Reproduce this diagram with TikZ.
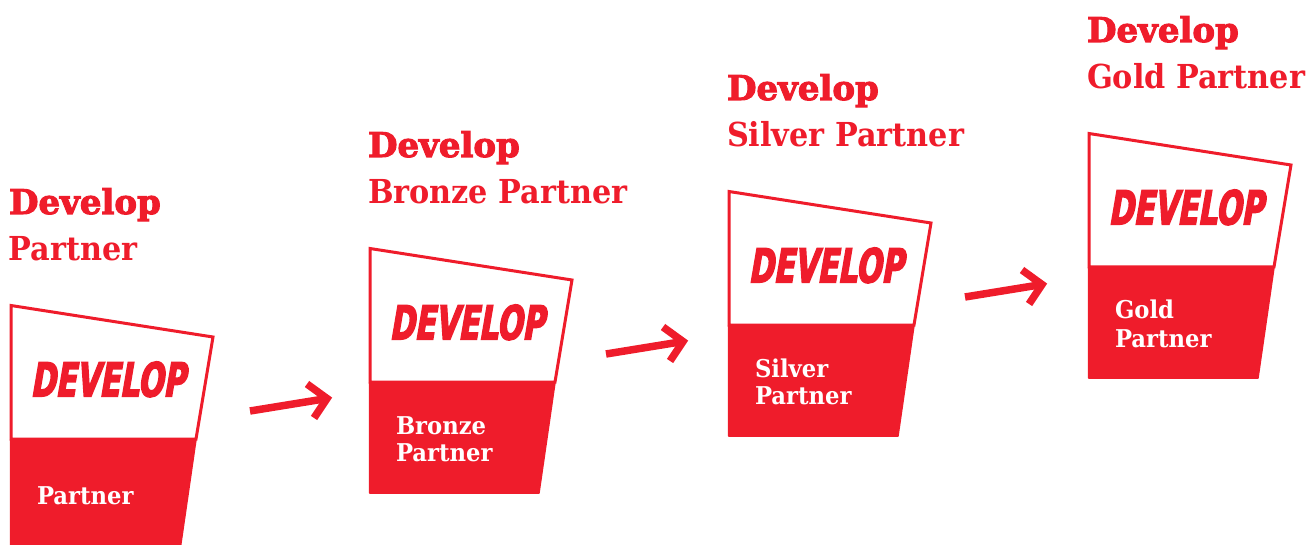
\documentclass[tikz,border=0pt]{standalone}
\usepackage{fontspec}
\setmainfont{DejaVu Serif Condensed}
\newfontfamily\heavyf[FakeBold=3]{DejaVu Serif Bold}
\newfontfamily\subf[FakeStretch=1.02]{DejaVu Serif Condensed Bold}
\newfontfamily\logof[FakeSlant=0.17,FakeStretch=0.71,FakeBold=3]{DejaVu Sans Condensed Bold}
\newfontfamily\labelf[FakeStretch=1.03]{DejaVu Serif Condensed Bold}
\definecolor{devred}{HTML}{EF1C2B}
\newcommand\tpx[2]{\fontsize{#1}{#2}\selectfont}
\tikzset{
  x=1pt,y=-1pt,
  txt/.style={inner sep=0,outer sep=0,anchor=base west},
  headline/.style={txt,text=devred,font=\heavyf\tpx{34}{36}},
  subline/.style={txt,text=devred,font=\subf\tpx{33}{36}},
  logotext/.style={txt,text=devred,font=\logof\tpx{47}{50}},
  labeltext/.style={txt,text=white,font=\labelf\tpx{24.5}{26}},
  frame/.style={draw=devred,line width=3pt,line join=miter,fill=white},
  band/.style={fill=devred,draw=devred,line width=1.5pt,line join=round},
  flowarrow/.style={draw=devred,line width=7.5pt,line cap=butt,line join=miter},
}
% #1 name, #2 x, #3 y, #4 subtitle, #5 label body
\newcommand\devbadge[5]{%
  \begin{scope}[shift={(#2,#3)}]
    \node[headline] (#1head) at (-1,-91) {Develop};
    \node[subline]  (#1sub)  at (-1,-44.5) {#4};
    \path[frame] (1,0.5) -- (1,134) -- (186,134) -- (203,32) -- cycle;
    \path[band] (0.5,134.5) -- (186,134.5) -- (170,245) -- (0.5,245) -- cycle;
    \node[logotext] (#1logo) at (20.5,91.5) {DEVELOP};
    #5
  \end{scope}}
\begin{document}
\begin{tikzpicture}
  \clip (0,0) rectangle (1309,545);
  \devbadge{a}{10}{305}{Partner}{\node[labeltext] (alabel) at (27,199) {Partner};}
  \devbadge{b}{369}{248}{Bronze Partner}{\node[labeltext] (blabel) at (27,186) {Bronze};\node[labeltext] (blabelb) at (27,213) {Partner};}
  \devbadge{c}{728}{191}{Silver Partner}{\node[labeltext] (clabel) at (27,186) {Silver};\node[labeltext] (clabelb) at (27,213) {Partner};}
  \devbadge{d}{1088}{133}{Gold Partner}{\node[labeltext] (dlabel) at (27,186) {Gold};\node[labeltext] (dlabelb) at (27,214) {Partner};}
  \foreach \n/\dx/\dy in {p/0/0,q/356/-57,r/715/-114}{
    \coordinate (\n s) at (250+\dx,411+\dy);
    \coordinate (\n t) at (327+\dx,398.5+\dy);
    \coordinate (\n u) at (307+\dx,384+\dy);
    \coordinate (\n v) at (314+\dx,418+\dy);
    \draw[flowarrow] (\n s) -- (\n t);
    \draw[flowarrow] (\n u) -- (\n t) -- (\n v);
  }
\end{tikzpicture}
\end{document}
